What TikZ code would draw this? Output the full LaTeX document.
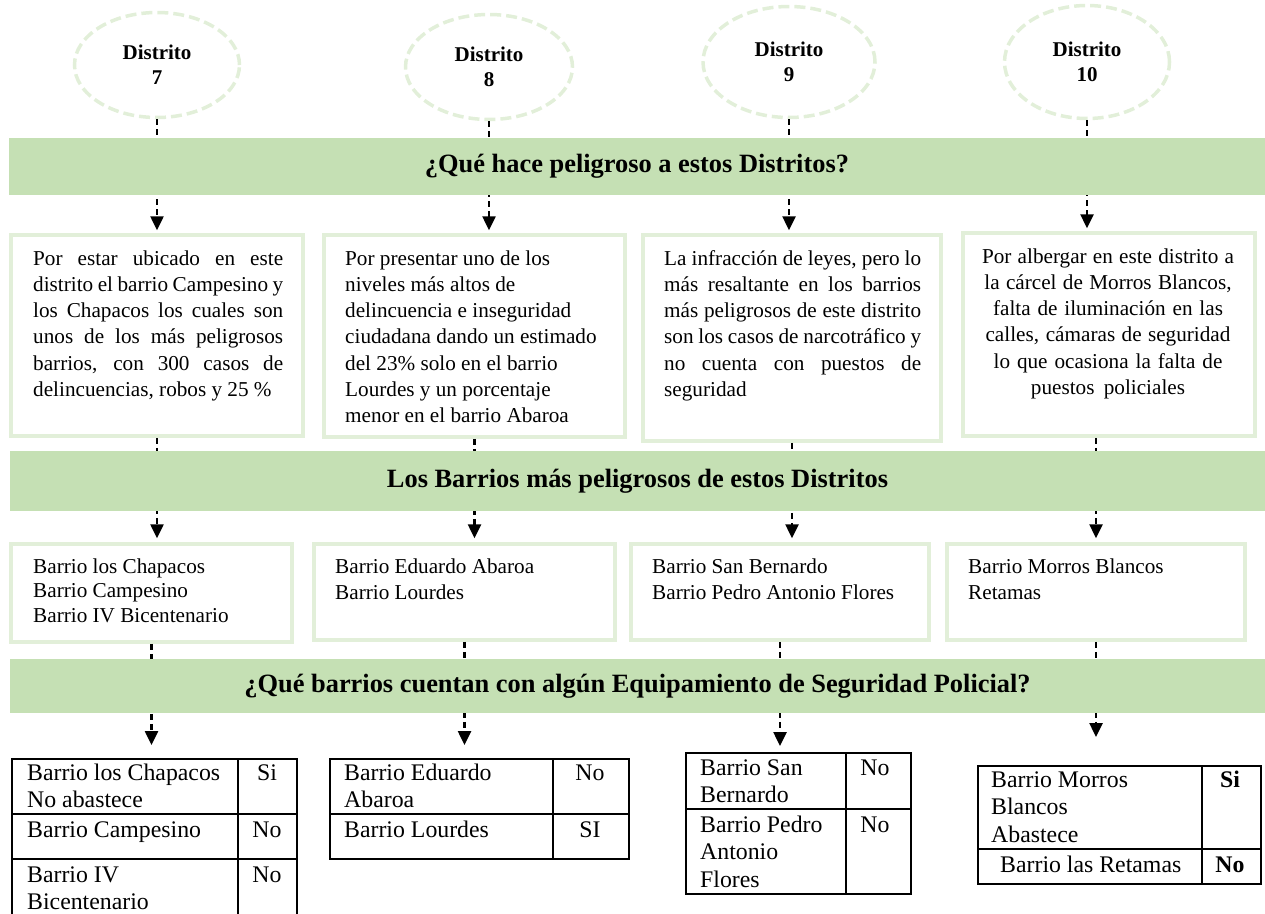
\documentclass[tikz,border=0pt]{standalone}
\usepackage{fontspec}
\setmainfont{Liberation Serif}
\usepackage{tikz}
\usetikzlibrary{shapes.geometric, arrows.meta, positioning}
\definecolor{BandGreen}{RGB}{197,224,180}
\definecolor{SoftGreen}{RGB}{226,239,217}
\newcommand{\justline}[1]{\makebox[\hsize][s]{#1}}
\tikzset{
  plainspace/.style={execute at begin node={\spaceskip=0pt\xspaceskip=0pt\relax}},
  distrito/.style={ellipse, draw=SoftGreen, line width=3.5pt, dash pattern=on 11pt off 5pt,
    minimum width=165pt, minimum height=105pt, inner sep=0pt, align=center,
    font=\fontsize{21}{25}\selectfont\bfseries},
  band/.style={fill=BandGreen, inner sep=0pt, minimum width=1256pt,
    font=\fontsize{26.4}{30}\selectfont\bfseries},
  infobox/.style={draw=SoftGreen, line width=3.5pt, inner sep=0pt},
  infotxt/.style={anchor=base west, inner sep=0pt, align=left, text width=280pt, plainspace,
    font=\fontsize{21.2}{26.3}\selectfont},
  tabframe/.style={draw=black, line width=2pt, inner sep=0pt, anchor=north west},
  tabline/.style={line width=2pt},
  tabtxt/.style={anchor=base west, inner sep=0pt, align=left, text width=200pt, plainspace,
    font=\fontsize{23.8}{27.6}\selectfont},
  tabval/.style={anchor=base, inner sep=0pt, font=\fontsize{23.8}{27.6}\selectfont},
  flow/.style={-{Triangle[width=13pt,length=14pt]}, line width=2.5pt, dash pattern=on 6pt off 4pt},
}

\begin{document}
\begin{tikzpicture}[x=1pt, y=-1pt]
  \useasboundingbox (0,0) rectangle (1265,913);
  % distritos
  \node[distrito] (e7) at (157,65) {Distrito\\7};
  \node[distrito, minimum width=167pt] (e8) at (489,67) {Distrito\\8};
  \node[distrito, minimum width=172pt, minimum height=111pt] (e9) at (789,62) {Distrito\\9};
  \node[distrito, minimum height=113pt] (e10) at (1087,62) {Distrito\\10};

  % por que son peligrosos
  \node[infobox, minimum width=292pt, minimum height=201pt] (b7) at (157,335.5) {};
  \node[infobox, minimum width=301pt, minimum height=202pt] (b8) at (474.5,336) {};
  \node[infobox, minimum width=298pt, minimum height=206pt] (b9) at (792,338) {};
  \node[infobox, minimum width=292pt, minimum height=203pt] (b10) at (1109,334.5) {};
  \node[infotxt, text width=250pt] (r7) at (33,265) {\justline{Por estar ubicado en este}\\
    \justline{distrito el barrio Campesino y}\\
    \justline{los Chapacos los cuales son}\\
    \justline{unos de los más peligrosos}\\
    \justline{barrios, con 300 casos de}\\
    delincuencias, robos y 25 \%};
  \node[infotxt] (r8) at (345,265) {Por presentar uno de los\\
    niveles más altos de\\
    delincuencia e inseguridad\\
    ciudadana dando un estimado\\
    del 23\% solo en el barrio\\
    Lourdes y un porcentaje\\
    menor en el barrio Abaroa};
  \node[infotxt, text width=257pt] (r9) at (664,265) {\justline{La infracción de leyes, pero lo}\\
    \justline{más resaltante en los barrios}\\
    \justline{más peligrosos de este distrito}\\
    \justline{son los casos de narcotráfico y}\\
    \justline{no cuenta con puestos de}\\
    seguridad};
  \node[infotxt, anchor=base, align=center] (r10) at (1108,263) {Por albergar en este distrito a\\
    la cárcel de Morros Blancos,\\
    falta de iluminación en las\\
    calles, cámaras de seguridad\\
    lo que ocasiona la falta de\\
    puestos policiales};

  % barrios
  \node[infobox, minimum width=281pt, minimum height=98pt] (c7) at (151.5,593) {};
  \node[infobox, minimum width=301pt, minimum height=96pt] (c8) at (464.5,592) {};
  \node[infobox, minimum width=298pt, minimum height=96pt] (c9) at (780,592) {};
  \node[infobox, minimum width=298pt, minimum height=96pt] (c10) at (1096,592) {};
  \node[infotxt, font=\fontsize{21.2}{24.8}\selectfont] (n7) at (33,573) {Barrio los Chapacos\\Barrio Campesino\\Barrio IV Bicentenario};
  \node[infotxt] (n8) at (335,573) {Barrio Eduardo Abaroa\\Barrio Lourdes};
  \node[infotxt] (n9) at (652,573) {Barrio San Bernardo\\Barrio Pedro Antonio Flores};
  \node[infotxt] (n10) at (968,573) {Barrio Morros Blancos\\Retamas};

  % tablas
  \node[tabframe, minimum width=285pt, minimum height=172pt] (t7) at (11,758) {};
  \draw[tabline] (238,758) -- (238,930);
  \draw[tabline] (11,814) -- (296,814);
  \draw[tabline] (11,859) -- (296,859);
  \node[tabtxt] (t7a) at (27,780) {Barrio los Chapacos\\No abastece};
  \node[tabval] (t7b) at (267,780) {Si};
  \node[tabtxt] (t7c) at (27,837) {Barrio Campesino};
  \node[tabval] (t7d) at (267,837) {No};
  \node[tabtxt] (t7e) at (27,882) {Barrio IV\\Bicentenario};
  \node[tabval] (t7f) at (267,882) {No};

  \node[tabframe, minimum width=299pt, minimum height=100pt] (t8) at (329,758) {};
  \draw[tabline] (553,758) -- (553,858);
  \draw[tabline] (329,814) -- (628,814);
  \node[tabtxt] (t8a) at (344,780) {Barrio Eduardo\\Abaroa};
  \node[tabval] (t8b) at (590,780) {No};
  \node[tabtxt] (t8c) at (344,837) {Barrio Lourdes};
  \node[tabval] (t8d) at (590,837) {SI};

  \node[tabframe, minimum width=225pt, minimum height=141pt] (t9) at (685,752) {};
  \draw[tabline] (846,752) -- (846,893);
  \draw[tabline] (685,809) -- (910,809);
  \node[tabtxt] (t9a) at (700,775) {Barrio San\\Bernardo};
  \node[tabval] (t9b) at (875,775) {No};
  \node[tabtxt] (t9c) at (700,832) {Barrio Pedro\\Antonio\\Flores};
  \node[tabval] (t9d) at (875,832) {No};

  \node[tabframe, minimum width=283pt, minimum height=118pt] (t10) at (977,765) {};
  \draw[tabline] (1202,765) -- (1202,883);
  \draw[tabline] (977,849) -- (1260,849);
  \node[tabtxt] (t10a) at (991,787) {Barrio Morros\\Blancos\\Abastece};
  \node[tabval, font=\fontsize{23.8}{27.6}\selectfont\bfseries] (t10b) at (1230,787) {Si};
  \node[tabtxt] (t10c) at (1000,872) {Barrio las Retamas};
  \node[tabval, font=\fontsize{23.8}{27.6}\selectfont\bfseries] (t10d) at (1230,872) {No};

  % flechas
  \foreach \k in {7,8,9,10} {
    \draw[flow, shorten >=3pt] (e\k.south) -- (e\k.south |- b\k.north);
  }
  \draw[flow, shorten >=4pt] (b7.south) -- (b7.south |- c7.north);
  \draw[flow, shorten >=4pt] (b8.south) -- (b8.south |- c8.north);
  \draw[flow, shorten >=4pt] (b9.south) -- (b9.south |- c9.north);
  \draw[flow, shorten >=4pt] (b10.south -| c10.north) -- (c10.north);
  \draw[flow, shorten >=13pt] (c7.south) -- (c7.south |- t7.north);
  \draw[flow, shorten >=13pt] (c8.south) -- (c8.south |- t8.north);
  \draw[flow, shorten >=6pt] (c9.south) -- (c9.south |- t9.north);
  \draw[flow, shorten >=28pt] (c10.south) -- (c10.south |- t10.north);

  % franjas
  \node[band, minimum height=57pt] (q1) at (637,166.5) {¿Qué hace peligroso a estos Distritos?};
  \node[band, minimum height=60pt] (q2) at (637.5,481) {Los Barrios más peligrosos de estos Distritos};
  \node[band, minimum height=54pt] (q3) at (637.5,686) {¿Qué barrios cuentan con algún Equipamiento de Seguridad Policial?};
\end{tikzpicture}
\end{document}
